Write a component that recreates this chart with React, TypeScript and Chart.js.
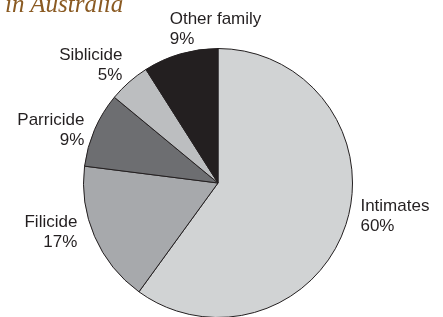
import React, { useEffect, useRef } from "react";
import { Chart, registerables } from "chart.js";

Chart.register(...registerables);

const categories = ["Intimates", "Filicide", "Parricide", "Siblicide", "Other family"];
const values = [60, 17, 9, 5, 9];
const percentLabels = ["60%", "17%", "9%", "5%", "9%"];
const colors = ["#d1d3d4", "#a7a9ac", "#6d6e71", "#bcbec0", "#231f20"];
const titleText = "in Australia";

// label layout: alignment and nudge relative to an anchor just outside each slice
const labelLayout = [
  { align: "left", dx: 5, dy: -17 },
  { align: "right", dx: -8, dy: -13 },
  { align: "right", dx: -1, dy: -1 },
  { align: "right", dx: 0, dy: -15 },
  { align: "left", dx: -8, dy: -20 },
];

const outsideLabels = {
  id: "outsideLabels",
  afterDatasetsDraw(chart: any) {
    const ctx = chart.ctx;
    const meta = chart.getDatasetMeta(0);
    ctx.save();
    ctx.font = '17px "Liberation Sans", Arial, sans-serif';
    ctx.fillStyle = "#231f20";
    ctx.textBaseline = "alphabetic";
    meta.data.forEach((arc: any, i: number) => {
      const p = arc.getProps(["x", "y", "startAngle", "endAngle", "outerRadius"], true);
      const mid = (p.startAngle + p.endAngle) / 2;
      const r = p.outerRadius + 10;
      const ax = p.x + Math.cos(mid) * r;
      const ay = p.y + Math.sin(mid) * r;
      const lay = labelLayout[i];
      ctx.textAlign = lay.align;
      const x = ax + lay.dx;
      const y = ay + lay.dy;
      ctx.fillText(categories[i], x, y);
      ctx.fillText(percentLabels[i], x, y + 20);
    });
    ctx.restore();
  },
};

export default function App() {
  const canvasRef = useRef<HTMLCanvasElement | null>(null);

  useEffect(() => {
    document.body.style.margin = "0";
    const canvas = canvasRef.current;
    if (!canvas) return;
    const chart = new Chart(canvas, {
      type: "pie",
      data: {
        labels: categories,
        datasets: [
          {
            data: values,
            backgroundColor: colors,
            borderColor: "#231f20",
            borderWidth: 1,
          },
        ],
      },
      options: {
        responsive: false,
        animation: false,
        devicePixelRatio: 1,
        layout: { padding: { top: 48, bottom: 22, left: 83, right: 90 } },
        plugins: {
          legend: { display: false },
          tooltip: { enabled: false },
          title: { display: false },
        },
      },
      plugins: [outsideLabels],
    });
    return () => chart.destroy();
  }, []);

  return (
    <div style={{ position: "relative", width: 443, height: 317, overflow: "hidden", background: "#fff" }}>
      <canvas ref={canvasRef} width={443} height={340} style={{ position: "absolute", left: 0, top: 0 }} />
      <div
        style={{
          position: "absolute",
          left: 5,
          top: -9,
          font: 'italic 25px "Liberation Serif", "DejaVu Serif", serif',
          lineHeight: "25px",
          color: "#8a5a22",
          whiteSpace: "nowrap",
        }}
      >
        {titleText}
      </div>
    </div>
  );
}
